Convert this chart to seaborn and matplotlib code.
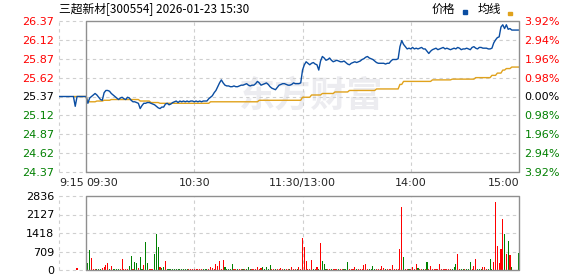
import matplotlib
matplotlib.use("Agg")
import matplotlib.pyplot as plt
import pandas as pd
import seaborn as sns
from matplotlib.patches import Rectangle

# ---------------- data ----------------
# time axis in minutes relative to 09:30 (-15 = 09:15 pre-market, 240 = 15:00)
minutes = list(range(-15, 241))

price_pre = [25.37, 25.37, 25.37, 25.37, 25.37, 25.37, 25.37, 25.37,
             25.37, 25.24, 25.37, 25.37, 25.37, 25.37, 25.37]
price_session = [
    25.37, 25.28, 25.35, 25.37, 25.39, 25.41, 25.39, 25.36, 25.33, 25.32,
    25.42, 25.45, 25.45, 25.44, 25.41, 25.39, 25.37, 25.35, 25.33, 25.35,
    25.36, 25.34, 25.33, 25.36, 25.35, 25.32, 25.30, 25.30, 25.29, 25.28,
    25.21, 25.25, 25.28, 25.28, 25.29, 25.29, 25.28, 25.27, 25.26, 25.24,
    25.22, 25.21, 25.23, 25.23, 25.27, 25.28, 25.26, 25.27, 25.29, 25.30,
    25.31, 25.29, 25.31, 25.30, 25.31, 25.30, 25.31, 25.30, 25.31, 25.31,
    25.30, 25.31, 25.30, 25.31, 25.30, 25.31, 25.31, 25.31, 25.34, 25.36,
    25.38, 25.42, 25.45, 25.50, 25.55, 25.59, 25.55, 25.52, 25.51, 25.51,
    25.50, 25.50, 25.51, 25.50, 25.50, 25.51, 25.52, 25.52, 25.53, 25.54,
    25.52, 25.51, 25.52, 25.52, 25.54, 25.57, 25.55, 25.52, 25.53, 25.54,
    25.55, 25.53, 25.50, 25.48, 25.47, 25.46, 25.49, 25.52, 25.53, 25.54,
    25.54, 25.53, 25.52, 25.52, 25.53, 25.55, 25.54, 25.54, 25.54, 25.55,
    25.72, 25.79, 25.83, 25.81, 25.79, 25.81, 25.82, 25.80, 25.79, 25.72,
    25.84, 25.90, 25.88, 25.85, 25.86, 25.88, 25.85, 25.83, 25.84, 25.85,
    25.84, 25.83, 25.83, 25.84, 25.82, 25.80, 25.79, 25.81, 25.82, 25.83,
    25.82, 25.83, 25.84, 25.86, 25.87, 25.89, 25.90, 25.88, 25.87, 25.86,
    25.84, 25.82, 25.81, 25.81, 25.81, 25.81, 25.80, 25.81, 25.81, 25.84,
    25.86, 25.86, 25.86, 25.87, 26.03, 26.11, 26.06, 26.03, 26.00, 26.01,
    26.00, 26.02, 26.00, 26.01, 26.00, 26.01, 26.02, 26.00, 26.00, 25.97,
    25.94, 25.97, 25.99, 26.00, 26.01, 25.99, 26.00, 26.01, 26.02, 26.00,
    26.01, 26.00, 25.99, 26.00, 26.01, 26.00, 26.02, 26.01, 25.99, 26.00,
    26.00, 26.01, 26.00, 25.99, 26.02, 26.03, 26.01, 26.00, 26.02, 26.02,
    26.01, 26.01, 26.01, 26.00, 26.00, 26.01, 26.08, 26.12, 26.15, 26.16,
    26.29, 26.32, 26.27, 26.32, 26.26, 26.27, 26.25, 26.25, 26.25, 26.25,
    26.25,
]

nan = float("nan")
avg_pre = [nan, nan, nan, nan, nan, nan, nan, nan,
           25.37, 25.37, 25.37, 25.37, 25.37, 25.37, 25.37]
avg_session = [
    25.37, 25.30, 25.30, 25.30, 25.30, 25.30, 25.31, 25.31, 25.31, 25.31,
    25.32, 25.32, 25.32, 25.32, 25.33, 25.33, 25.33, 25.33, 25.33, 25.33,
    25.33, 25.33, 25.33, 25.33, 25.33, 25.33, 25.33, 25.33, 25.33, 25.33,
    25.31, 25.31, 25.31, 25.31, 25.31, 25.31, 25.29, 25.29, 25.29, 25.29,
    25.29, 25.28, 25.28, 25.28, 25.28, 25.28, 25.28, 25.28, 25.28, 25.28,
    25.28, 25.28, 25.28, 25.28, 25.28, 25.28, 25.28, 25.28, 25.28, 25.28,
    25.28, 25.28, 25.28, 25.28, 25.28, 25.28, 25.28, 25.28, 25.28, 25.30,
    25.30, 25.30, 25.30, 25.30, 25.30, 25.30, 25.30, 25.30, 25.30, 25.30,
    25.30, 25.30, 25.30, 25.30, 25.30, 25.30, 25.30, 25.30, 25.30, 25.30,
    25.30, 25.30, 25.30, 25.30, 25.30, 25.30, 25.32, 25.32, 25.32, 25.32,
    25.32, 25.32, 25.32, 25.32, 25.32, 25.32, 25.32, 25.32, 25.32, 25.32,
    25.32, 25.32, 25.32, 25.32, 25.32, 25.32, 25.32, 25.32, 25.32, 25.32,
    25.36, 25.36, 25.36, 25.36, 25.36, 25.39, 25.39, 25.39, 25.39, 25.39,
    25.39, 25.41, 25.41, 25.41, 25.41, 25.41, 25.41, 25.41, 25.43, 25.43,
    25.43, 25.43, 25.43, 25.43, 25.43, 25.43, 25.45, 25.45, 25.45, 25.45,
    25.45, 25.45, 25.45, 25.45, 25.45, 25.45, 25.45, 25.45, 25.45, 25.45,
    25.45, 25.47, 25.47, 25.47, 25.47, 25.47, 25.47, 25.47, 25.47, 25.47,
    25.47, 25.47, 25.47, 25.47, 25.53, 25.53, 25.57, 25.57, 25.57, 25.57,
    25.57, 25.57, 25.57, 25.57, 25.57, 25.57, 25.57, 25.57, 25.57, 25.57,
    25.57, 25.57, 25.59, 25.59, 25.59, 25.59, 25.59, 25.59, 25.59, 25.59,
    25.59, 25.59, 25.59, 25.60, 25.60, 25.60, 25.60, 25.60, 25.60, 25.60,
    25.60, 25.60, 25.60, 25.60, 25.60, 25.60, 25.62, 25.62, 25.62, 25.62,
    25.62, 25.62, 25.62, 25.62, 25.62, 25.65, 25.65, 25.65, 25.68, 25.68,
    25.68, 25.72, 25.72, 25.74, 25.74, 25.74, 25.76, 25.76, 25.76, 25.76,
    25.76,
]

volume_pre = [0, 0, 0, 0, 0, 0, 0, 0, 0, 0, 60, 0, 0, 0, 0]
volume_session = [
    0, 268, 780, 460, 50, 50, 40, 40, 40, 80,
    100, 200, 280, 50, 170, 40, 40, 40, 40, 40,
    430, 40, 40, 40, 170, 550, 40, 320, 280, 80,
    510, 40, 200, 1090, 280, 40, 40, 40, 630, 1390,
    870, 130, 80, 130, 360, 40, 40, 40, 40, 40,
    40, 40, 40, 40, 40, 40, 40, 40, 40, 40,
    40, 40, 40, 40, 40, 40, 40, 40, 40, 100,
    80, 40, 240, 170, 360, 40, 400, 130, 50, 40,
    40, 240, 40, 40, 40, 40, 40, 40, 40, 40,
    130, 40, 40, 40, 40, 130, 40, 80, 100, 40,
    130, 40, 200, 40, 40, 40, 40, 40, 80, 40,
    40, 40, 40, 40, 100, 40, 40, 40, 130, 40,
    1230, 880, 345, 40, 40, 380, 40, 40, 100, 40,
    1030, 345, 230, 40, 40, 40, 40, 40, 40, 40,
    40, 40, 40, 40, 40, 306, 40, 40, 40, 100,
    40, 40, 40, 40, 180, 230, 40, 40, 40, 150,
    40, 40, 40, 40, 150, 80, 40, 40, 40, 40,
    180, 40, 40, 40, 805, 2410, 500, 40, 40, 40,
    40, 100, 40, 230, 80, 40, 40, 40, 40, 306,
    40, 150, 40, 40, 40, 40, 230, 40, 40, 40,
    40, 40, 40, 40, 100, 230, 613, 40, 40, 40,
    40, 40, 40, 306, 40, 150, 420, 40, 40, 40,
    100, 100, 40, 40, 420, 40, 306, 2605, 920, 268,
    805, 1954, 1380, 613, 1110, 575, 100, 0, 0, 0,
    650,
]
# r = up (red), g = down (green)
vol_dir_pre = "ggggggggggrgggg"
vol_dir_session = (
    "gggrrrgggr" "rrrgrggggr" "rrrrggrggr" "ggrggrrrgg" "grggrggggg"
    "gggggggrrr" "rrrrrgggrr" "rrrrrrrggg" "ggrrgrrgrg" "ggrrrrrrgg"
    "gggrrgrrrr" "grrgrrrgrr" "rrrrrrgrrg" "rgggrrgrrr" "grrgggrrrr"
    "grrrrrrggg" "grrrrrgrrr" "rrrrrrgrrg" "rrrrgrrgrg" "rrrrrrrrrr"
    "rrrgggrrgg" "rgggrrrggg" "rrrgggrrrr" "rrgrgrgggg" "g"
)

price_ticks = [24.37, 24.62, 24.87, 25.12, 25.37, 25.62, 25.87, 26.12, 26.37]
price_labels = ["24.37", "24.62", "24.87", "25.12", "25.37", "25.62", "25.87", "26.12", "26.37"]
pct_labels = ["3.92%", "2.94%", "1.96%", "0.98%", "0.00%", "0.98%", "1.96%", "2.94%", "3.92%"]
label_colors = ["g", "g", "g", "g", "k", "r", "r", "r", "r"]
vol_ticks = [0, 709, 1418, 2127, 2836]
vol_labels = ["0", "709", "1418", "2127", "2836"]
time_ticks = [-15, 0, 60, 120, 180, 240]
time_labels = ["9:15", "09:30", "10:30", "11:30/13:00", "14:00", "15:00"]
title = "三超新材[300554] 2026-01-23 15:30"

# ---------------- style ----------------
RED, GREEN, BLACK = "#ff0000", "#008000", "#000000"
BLUE, GOLD = "#0a4da2", "#e0a21c"
FRAME, GRID = "#8f8f8f", "#cfcfcf"
cmap = {"r": RED, "g": GREEN, "k": BLACK}

sns.set_theme(style="white")
plt.rcParams["font.family"] = ["DejaVu Sans", "Noto Sans CJK SC"]
plt.rcParams["axes.unicode_minus"] = False

W, H = 578, 276
fig = plt.figure(figsize=(W / 100, H / 100), dpi=100)
fig.patch.set_facecolor("white")


def fx(px):
    return px / W


def fy(py):
    return 1 - py / H


L, R = 59, 519
ax = fig.add_axes([fx(L), fy(172), (R - L) / W, (172 - 21) / H])
axv = fig.add_axes([fx(L), fy(270), (R - L) / W, (270 - 196) / H])

df = pd.DataFrame({
    "minute": minutes,
    "price": price_pre + price_session,
    "avg": avg_pre + avg_session,
    "volume": volume_pre + volume_session,
    "dir": list(vol_dir_pre + vol_dir_session),
})

# watermark
ax.text(125, 25.37, "东方财富", fontsize=26, color="#ececf0", ha="center", va="center",
        family=["Noto Sans CJK SC"], fontweight="bold", zorder=0.5)

sns.lineplot(data=df, x="minute", y="avg", color=GOLD, lw=1.0, ax=ax, zorder=3,
             errorbar=None, estimator=None)
sns.lineplot(data=df, x="minute", y="price", color=BLUE, lw=1.0, ax=ax, zorder=4,
             errorbar=None, estimator=None)

sns.barplot(data=df, x="minute", y="volume", hue="dir", palette={"r": RED, "g": GREEN},
            native_scale=True, dodge=False, width=0.6, legend=False, errorbar=None,
            saturation=1, linewidth=0, antialiased=False, ax=axv, zorder=3)


def frame(a, lo, hi, gridvals):
    for s in a.spines.values():
        s.set_visible(False)
    a.grid(False)
    dash = dict(color=GRID, lw=0.8, ls=(0, (3, 3)), zorder=1)
    for v in gridvals:
        a.axhline(v, **dash)
    for m in [60, 120, 180]:
        a.axvline(m, **dash)
    a.plot([-15, -15], [lo, hi], clip_on=False, **dash)
    a.plot([-15, 0], [lo, lo], clip_on=False, **dash)
    a.plot([-15, 0], [hi, hi], clip_on=False, **dash)
    a.plot([0, 240, 240, 0, 0], [lo, lo, hi, hi, lo], color=FRAME, lw=1.0,
           zorder=6, clip_on=False)
    a.set_xlim(-15, 240)
    a.set_ylim(lo, hi)
    a.set_xlabel("")
    a.set_ylabel("")


frame(ax, 24.37, 26.37, price_ticks[1:-1])
frame(axv, 0, 2836, vol_ticks[1:-1])

# left price labels
ax.set_yticks(price_ticks)
ax.set_yticklabels(price_labels)
ax.tick_params(axis="y", length=0, pad=3.5, labelsize=8)
for lbl, c in zip(ax.get_yticklabels(), label_colors):
    lbl.set_color(cmap[c])

# time labels
ax.set_xticks(time_ticks)
ax.set_xticklabels(time_labels)
ax.tick_params(axis="x", length=0, pad=4, labelsize=8)
for lbl, ha in zip(ax.get_xticklabels(), ["left", "left", "center", "center", "center", "right"]):
    lbl.set_ha(ha)

# right percent labels
axr = ax.twinx()
axr.set_ylim(24.37, 26.37)
for s in axr.spines.values():
    s.set_visible(False)
axr.grid(False)
axr.set_yticks(price_ticks)
axr.set_yticklabels(pct_labels)
axr.tick_params(axis="y", length=0, pad=4, labelsize=8)
for lbl, c in zip(axr.get_yticklabels(), label_colors):
    lbl.set_color(cmap[c])

# volume labels
axv.set_xticks([])
axv.set_yticks(vol_ticks)
axv.set_yticklabels(vol_labels)
axv.tick_params(axis="y", length=0, pad=3.5, labelsize=8, colors=BLACK)

# title and legend
fig.text(fx(59), fy(9.5), title, fontsize=8.5, ha="left", va="center",
         family=["Noto Sans CJK SC", "DejaVu Sans"], color=BLACK)
fig.text(fx(432), fy(9.5), "价格", fontsize=8.5, ha="left", va="center",
         family=["Noto Sans CJK SC"], color=BLACK)
fig.text(fx(478), fy(9.5), "均线", fontsize=8.5, ha="left", va="center",
         family=["Noto Sans CJK SC"], color=BLACK)
fig.add_artist(Rectangle((fx(463), fy(14)), 4 / W, 4 / H, color=BLUE,
                         transform=fig.transFigure))
fig.add_artist(Rectangle((fx(508), fy(15)), 4 / W, 3 / H, color=GOLD,
                         transform=fig.transFigure))

fig.savefig("out.png", dpi=100, facecolor="white")
